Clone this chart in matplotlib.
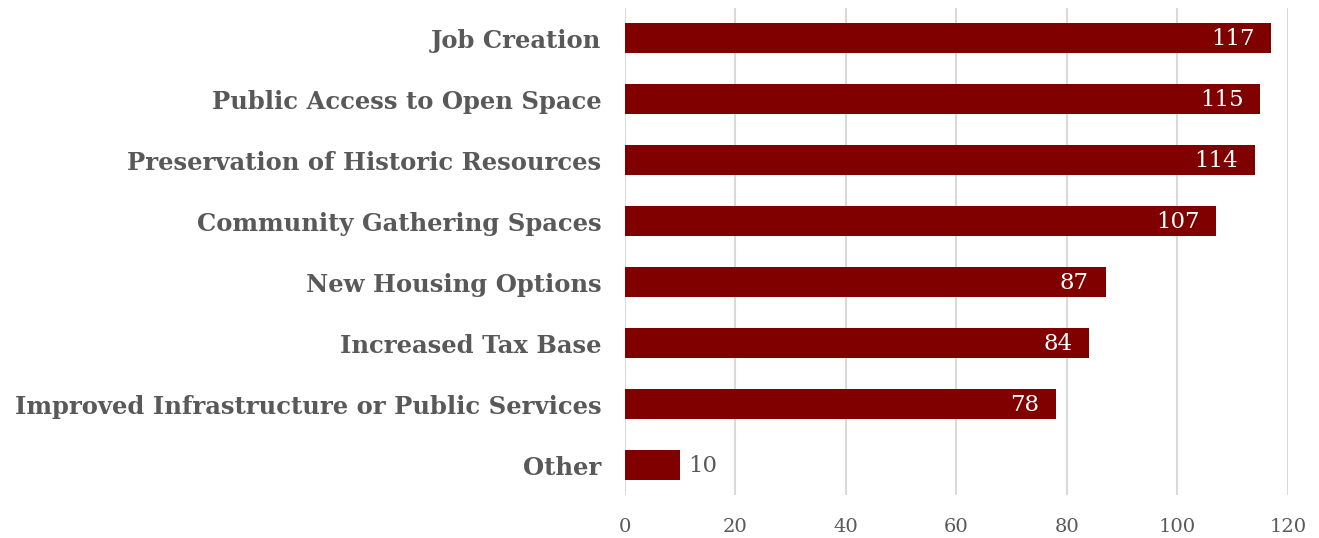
import matplotlib
matplotlib.use("Agg")
import matplotlib.pyplot as plt

plt.rcParams.update({
    "font.family": "serif",
    "font.serif": ["DejaVu Serif", "Liberation Serif"],
})

# Data: most-cited benefits, top to bottom
kategori = [
    "Job Creation",
    "Public Access to Open Space",
    "Preservation of Historic Resources",
    "Community Gathering Spaces",
    "New Housing Options",
    "Increased Tax Base",
    "Improved Infrastructure or Public Services",
    "Other",
]
jumlah = [117, 115, 114, 107, 87, 84, 78, 10]
ticks_x = [0, 20, 40, 60, 80, 100, 120]

MERAH = "#800000"
ABU = "#595959"

fig = plt.figure(figsize=(13.19, 5.38), dpi=100)
ax = fig.add_axes([0.4738, 0.079, 0.5027, 0.907])

y = list(range(len(kategori)))
ax.barh(y, jumlah, height=0.5, color=MERAH, zorder=2)

ax.set_ylim(len(kategori) - 0.5, -0.5)
ax.set_xlim(0, 120)
ax.set_xticks(ticks_x)
ax.set_xticklabels([str(t) for t in ticks_x], fontsize=14, color=ABU)
ax.set_yticks(y)
ax.set_yticklabels(kategori, fontsize=17.5, fontweight="bold", color=ABU)
ax.tick_params(axis="both", length=0)
ax.tick_params(axis="y", pad=17)
ax.tick_params(axis="x", pad=16)
for s in ax.spines.values():
    s.set_visible(False)
ax.grid(True, axis="x", color="#d9d9d9", lw=1.5, zorder=0)

for yi, v in zip(y, jumlah):
    if v > 20:
        ax.annotate(str(v), (v, yi), xytext=(-12, -1), textcoords="offset points",
                    ha="right", va="center", fontsize=16.5, color="white", zorder=3)
    else:
        ax.annotate(str(v), (v, yi), xytext=(6, -1), textcoords="offset points",
                    ha="left", va="center", fontsize=16.5, color=ABU, zorder=3)

fig.savefig("out.png", dpi=100)
